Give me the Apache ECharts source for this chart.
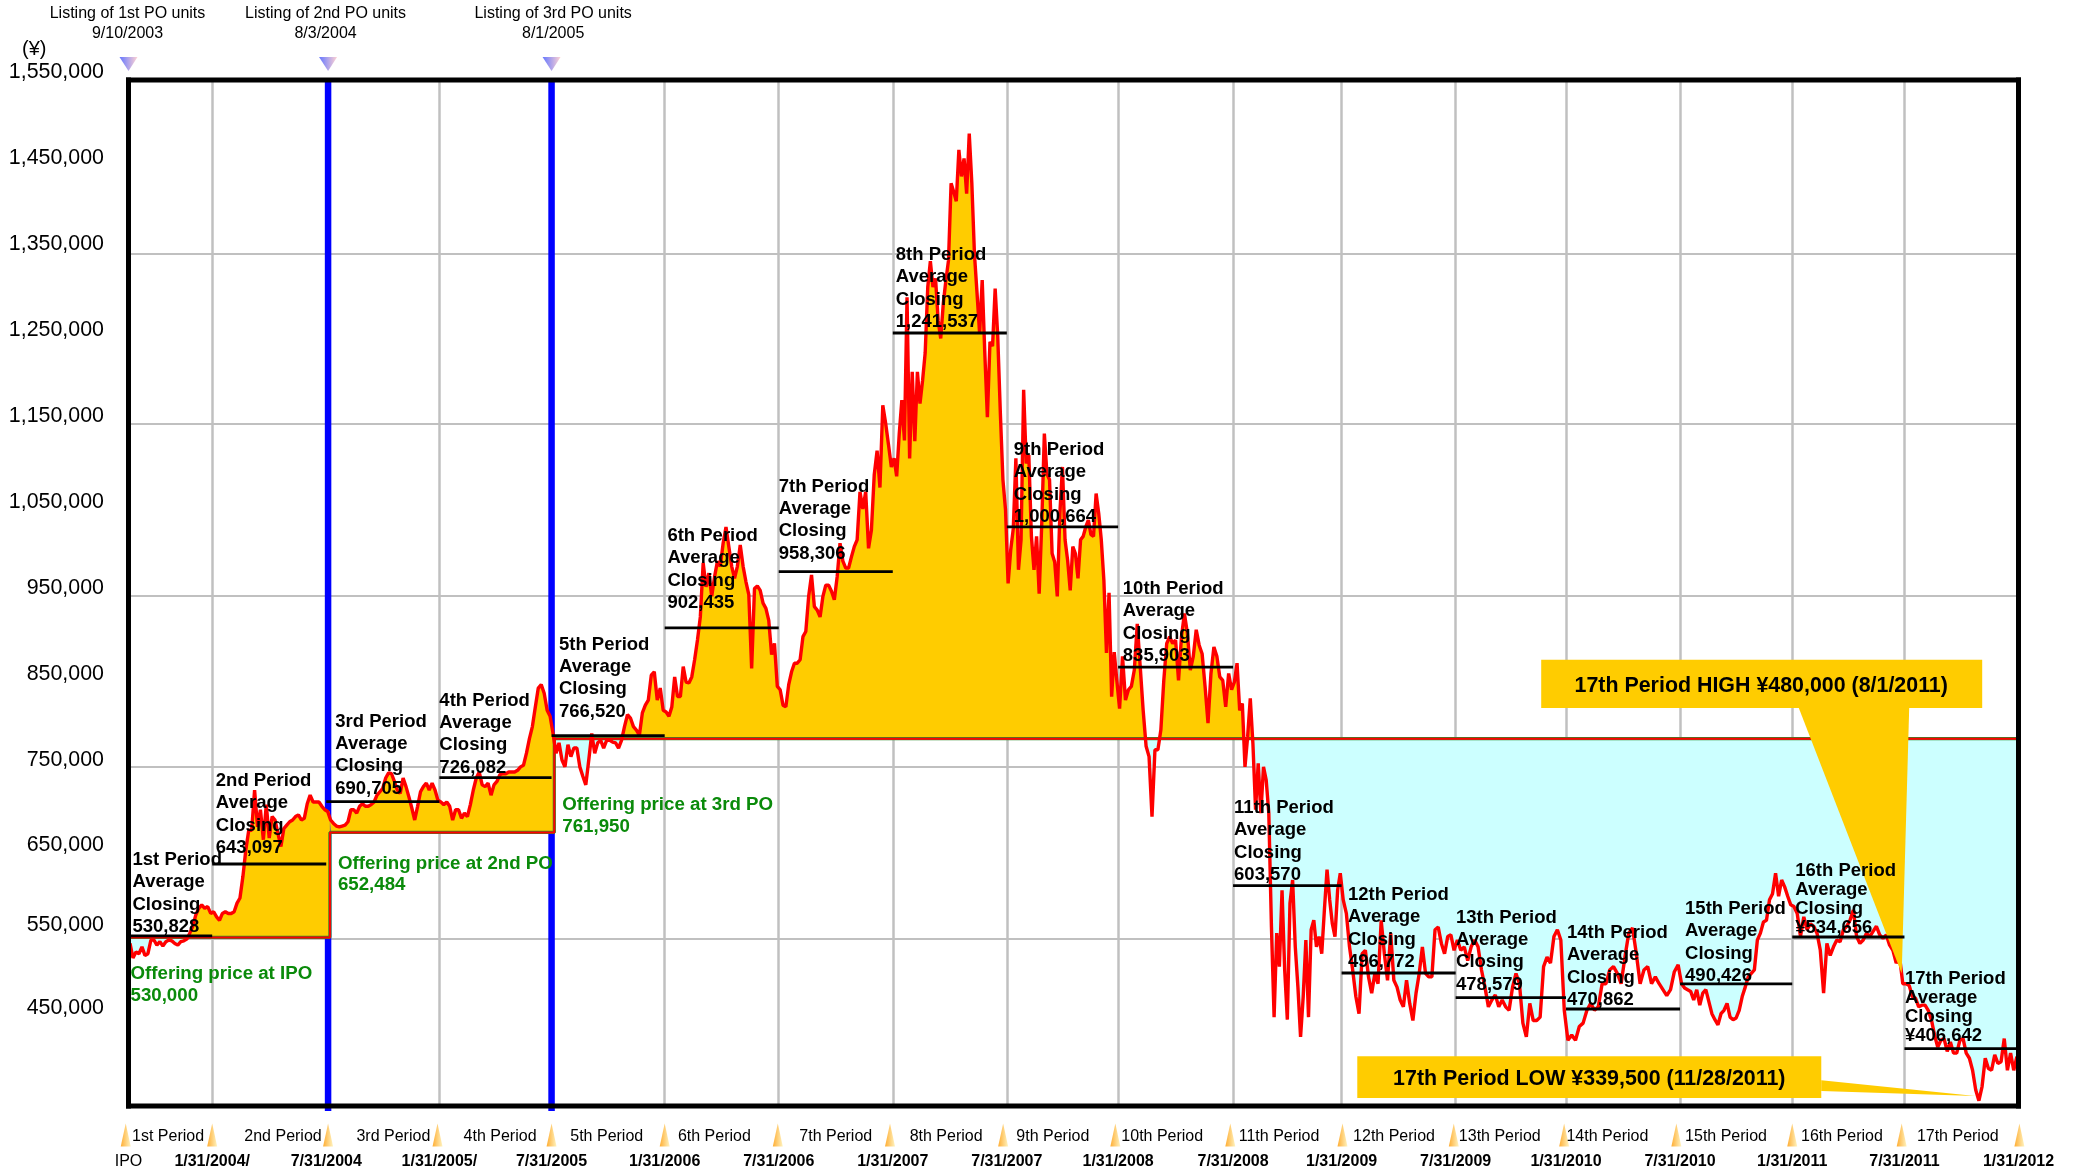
<!DOCTYPE html>
<html>
<head>
<meta charset="utf-8">
<style>html,body{margin:0;padding:0;background:#fff}#c{width:2078px;height:1171px}</style>
<script src="https://cdn.jsdelivr.net/npm/echarts@6/dist/echarts.min.js"></script>
</head>
<body>
<div id="c"></div>
<script>
// ---------- data (closing price in thousand yen) ----------
const p1=[523,506,513,511,519,509,511,527,527,521,525,520,525,527,526,523,521,525,526,528,535,543,556,564,568,564,566,558];
const p2=[560,554,550,558,560,558,558,560,570,576,601,632,655,655,702,659,679,644,685,646,671,667,651,636,657,661,665,667,671,673,667,669,686,696,688,688,688,683,679];
const p3=[677,667,663,660,659,660,661,665,679,679,675,683,686,683,683,685,688,696,700,704,716,722,721,712,702,698,716,706,694,681,667,683,700,706,710,702,710,702,690];
const p4=[688,685,688,683,667,679,679,669,675,671,685,702,716,723,708,706,710,696,708,712,720,721,721,723,723,723,725,729,731,745,762,776,799,821,825,815,795,788];
const p5=[768,745,757,737,729,755,741,751,751,729,718,708,737,768,745,757,760,751,760,760,758,757,751,760,776,790,786,776,772,766,792,801,807,836,840,807,821,795];
const p6=[793,788,799,834,811,811,846,828,827,834,854,877,904,967,939,955,928,951,969,963,990,1009,986,963,949,963,988,963,945,930,844,937,940,935,920,914,900,860,873,823];
const p7=[819,801,799,825,840,850,850,854,881,887,928,953,916,912,904,928,941,941,934,924,951,990,969,961,961,974,986,994,1050,1030,1050,984,1005,1070,1098,1055,1151,1130,1105,1079];
const p8=[1089,1068,1118,1157,1110,1277,1089,1190,1109,1190,1153,1180,1212,1289,1319,1289,1299,1250,1229,1270,1297,1320,1410,1400,1389,1449,1418,1439,1398,1468,1410,1328,1282,1235,1297,1212,1137,1225,1220,1287,1231,1142,1064,1029];
const p9=[943,982,1007,1089,959,994,1169,1083,1093,998,959,998,931,1013,1118,1071,1064,978,968,928,1025,1079,994,970,935,986,978,949,994,998,1009,1017,1000,998,1048,1025,994,947,862,932,811,863,830];
const p10=[797,858,807,819,823,842,896,846,795,753,741,671,749,749,772,830,873,881,873,877,830,881,908,885,842,858,889,871,861,823,780,838,869,858,834,830,799,838,819];
const p11=[828,850,795,803,729,764,809,756,679,733,675,729,714,675,542,437,535,496,585,492,434,570,597,519,472,414,461,527,437,539,550,519,531,511,562,609,574,546,531,585,605];
const p12=[574,558,519,492,461,441,511,515,484,465,488,476,550,511,480,535,480,472,457,449,480,453,433,465,488,519,488,484,484,539,542,523,511,531,533,515];
const p13=[527,515,519,503,519,527,519,492,472,449,457,463,449,457,449,445,472,488,476,430,414,453,433,433,437,496,507,500,531,539,527,445];
const p14=[410,416,410,426,430,445,453,445,449,476,476,492,496,488,476,507,535,541,511,476,492,496,476,484,476,469,462,469,490,498];
const p15=[476,471,469,467,457,469,451,465,469,455,441,434,428,441,445,453,437,434,436,445,461,472,484,488,492,527,535,548,550,574,581,605,578,597,589,578,568];
const p16=[566,558,531,554,539,546,543,535,515,465,523,509,519,527,525,539,543,550,562,531,523,527,535,531,537,543,533,529,533,521,515,500,508,476];
const p17=[476,474,461,459,449,451,451,445,434,416,402,410,412,397,408,395,395,410,412,395,389,375,352,339.5,356,389,377,375,393,383,385,412,375,395,375,391];
const periodPrices=[p1,p2,p3,p4,p5,p6,p7,p8,p9,p10,p11,p12,p13,p14,p15,p16,p17];
const periodSessions=[91,124,123,122,123,124,124,124,121,125,118,124,120,124,122,122,124];
const periodNames=['1st','2nd','3rd','4th','5th','6th','7th','8th','9th','10th','11th','12th','13th','14th','15th','16th','17th'];
const averageTexts=['530,828','643,097','690,705','726,082','766,520','902,435','958,306','1,241,537','1,000,664','835,903','603,570','496,772','478,579','470,862','490,426','¥534,656','¥406,642'];
const averageLevels=[531.7,615.7,688.4,716.4,765.4,891.1,956.8,1235.3,1009,845.5,590.4,488.5,459.7,446.5,475.7,530.5,400.2];
const dateLabels=['IPO','1/31/2004/','7/31/2004','1/31/2005/','7/31/2005','1/31/2006','7/31/2006','1/31/2007','7/31/2007','1/31/2008','7/31/2008','1/31/2009','7/31/2009','1/31/2010','7/31/2010','1/31/2011','7/31/2011','1/31/2012'];
const offeringPrices=[530000,652484,761950];
const offeringTexts=['Offering price at IPO\n530,000','Offering price at 2nd PO\n652,484','Offering price at 3rd PO\n761,950'];
const sectionStarts=[0,219,463];
const listingSessions=[0,217,460];
const listingTexts=['Listing of 1st PO units\n9/10/2003','Listing of 2nd PO units\n8/3/2004','Listing of 3rd PO units\n8/1/2005'];
const yTickLabels=['1,550,000','1,450,000','1,350,000','1,250,000','1,150,000','1,050,000','950,000','850,000','750,000','650,000','550,000','450,000'];
const yTickPlacement=[1540000,1439700,1339300,1239000,1138600,1038300,937900,837600,737200,638000,544700,447800];
const gridValues=[528000,729000,929000,1129000,1328000];
const xMarkers=[-3,91,217,336,460,583,706,828,951,1073,1198,1320,1441,1561,1683,1809,1928,2056];
const periodNameAnchors=[43,168,288,404,520,637,769,889,1005,1124,1251,1376,1491,1608,1737,1863,1989];

// ---------- layout / style constants ----------
const FONT='"Liberation Sans", Arial, sans-serif';
const xMax=2055, yMin=333300, yMax=1530500, yMaxWide=1553900;
const GOLD='#FFCC00', CYAN='#CCFFFF', RED='#FF0000';
const gridBox={left:128.5,right:59.5,bottom:65};
const labelDx=[4,3.6,9,0,7.4,2.7,0,3,7,4.7,1,6.4,0.4,1,5,3,0.5];
const labelDy=[1,-6,-3,0,-14,-15,-8,-1,0,-1,-0.7,-1,-3,1,2,0,-3.7].map(d=>d+1);
const labelLH=[22.3,22.3,22.3,22.3,22.3,22.3,22.3,22.3,22.3,22.3,22.3,22.3,22.3,22.3,22.3,19.3,19.2];
const offerDx=[2,8,8], offerDy=[25.8,20.4,55.5];
const listingDx=[-1,-2.5,1.6];

// ---------- derived ----------
const boundaries=[0];
periodSessions.forEach(n=>boundaries.push(boundaries[boundaries.length-1]+n));
const priceData=[];
periodPrices.forEach((vals,i)=>{
  vals.forEach((v,j)=>priceData.push([boundaries[i]+(j+0.5)/vals.length*periodSessions[i],v*1000]));
});
const lastX=priceData[priceData.length-1][0];
const sectionEnds=[sectionStarts[1],sectionStarts[2],lastX];

function sectionPoints(s){
  const start=sectionStarts[s],end=sectionEnds[s],level=offeringPrices[s];
  const inside=priceData.filter(p=>p[0]>=start&&p[0]<=end);
  const pts=[];
  if(s>0)pts.push([start,inside[0][1]]);
  inside.forEach(p=>pts.push(p));
  if(s<2)pts.push([end,inside[inside.length-1][1]]);
  const out=[];
  pts.forEach((p,k)=>{
    if(k>0){
      const q=pts[k-1];
      if((q[1]-level)*(p[1]-level)<0){
        out.push([q[0]+(level-q[1])/(p[1]-q[1])*(p[0]-q[0]),level]);
      }
    }
    out.push(p);
  });
  return out;
}
const series=[];
function rules(name,rows,stroke,width,z,cap){
  series.push({type:'custom',name,z,silent:true,data:rows,
    renderItem(params,api){
      const a=api.coord([api.value(0),api.value(1)]),b=api.coord([api.value(2),api.value(3)]);
      return {type:'line',shape:{x1:a[0],y1:a[1],x2:b[0],y2:b[1]},style:{stroke,lineWidth:width,lineCap:cap||'butt'}};
    }});
}
function texts(name,items,z,xi,yi){
  series.push({type:'custom',name,z,silent:true,xAxisIndex:xi||0,yAxisIndex:yi||0,
    data:items.map(t=>[t.x,t.y]),
    renderItem(params,api){
      const t=items[params.dataIndex],p=api.coord([api.value(0),api.value(1)]);
      return {type:'text',x:p[0]+(t.dx||0),y:p[1]+(t.dy||0),
        style:{text:t.text,font:t.font,fill:t.fill||'#000',align:t.align||'left',verticalAlign:t.vAlign||'bottom',lineHeight:t.lh}};
    }});
}

// blue listing lines (under the fills)
const blueRows=[];
listingSessions.slice(1).forEach(x=>{blueRows.push([x,yMax,x,327500]);});
rules('Listing',blueRows,'#0000FF',6.5,1);

// fills against each offering price
offeringPrices.forEach((level,s)=>{
  const pts=sectionPoints(s);
  series.push({type:'line',name:'Above '+s,z:2,silent:true,symbol:'none',lineStyle:{width:0},
    areaStyle:{color:GOLD,opacity:1,origin:level},data:pts.map(p=>[p[0],Math.max(p[1],level)])});
  series.push({type:'line',name:'Below '+s,z:2,silent:true,symbol:'none',lineStyle:{width:0},
    areaStyle:{color:CYAN,opacity:1,origin:level},data:pts.map(p=>[p[0],Math.min(p[1],level)])});
});

// offering price step line
const levelData=[];
offeringPrices.forEach((level,s)=>{levelData.push([s===0?priceData[0][0]:sectionStarts[s],level]);levelData.push([sectionEnds[s],level]);});
series.push({type:'line',name:'Offering edge',z:3,silent:true,symbol:'none',lineStyle:{color:'#2E8B2E',width:3.2},data:levelData});
series.push({type:'line',name:'Offering',z:3,silent:true,symbol:'none',lineStyle:{color:RED,width:2},data:levelData});

// closing price
series.push({type:'line',name:'Closing',z:4,silent:true,symbol:'none',lineStyle:{color:RED,width:3.4},data:priceData});

// plot frame
rules('Frame',[[0,yMin,xMax,yMin],[0,yMax,xMax,yMax],[0,yMin,0,yMax],[xMax,yMin,xMax,yMax]],'#000',5,5,'square');

// callouts
const callouts=[
  {x:1928,y:488000,text:'17th Period HIGH ¥480,000 (8/1/2011)',box:[-360.5,-313.7,441,48.4],tri:[[-102.9,-265.3],[7.5,-265.3],[0,0]],tx:-140.5,ty:-287},
  {x:2008,y:345000,text:'17th Period LOW ¥339,500 (11/28/2011)',box:[-618,-39.7,464,41.7],tri:[[-154,-15.7],[-154,-5],[0,0]],tx:-386,ty:-16.7}
];
series.push({type:'custom',name:'Callouts',z:6,silent:true,data:callouts.map(c=>[c.x,c.y]),
  renderItem(params,api){
    const c=callouts[params.dataIndex],p=api.coord([api.value(0),api.value(1)]);
    return {type:'group',x:p[0],y:p[1],children:[
      {type:'polygon',shape:{points:c.tri},style:{fill:GOLD}},
      {type:'rect',shape:{x:c.box[0],y:c.box[1],width:c.box[2],height:c.box[3]},style:{fill:GOLD}},
      {type:'text',x:c.tx,y:c.ty,style:{text:c.text,font:'bold 21.4px '+FONT,fill:'#000',align:'center',verticalAlign:'middle'}}
    ]};
  }});

// period averages
rules('Period average',averageLevels.map((v,i)=>[boundaries[i],v*1000,boundaries[i+1],v*1000]),'#000',2.8,7);
texts('Period labels',averageLevels.map((v,i)=>({
  x:boundaries[i],y:v*1000,dx:labelDx[i],dy:labelDy[i],lh:labelLH[i],
  text:periodNames[i]+' Period\nAverage\nClosing\n'+averageTexts[i],font:'bold 18.5px '+FONT
})),8);
texts('Offering labels',offeringPrices.map((v,i)=>({
  x:sectionStarts[i],y:v,dx:offerDx[i],dy:offerDy[i],lh:21.5,vAlign:'top',
  text:offeringTexts[i],font:'bold 18.7px '+FONT,fill:'#0A8A0A'
})),8);

// listing markers and captions (top strip, axis index 1)
series.push({type:'scatter',name:'Listing marks',xAxisIndex:1,yAxisIndex:1,clip:false,silent:true,
  symbol:'triangle',symbolRotate:180,symbolSize:[18,14],z:3,
  itemStyle:{color:new echarts.graphic.LinearGradient(0,0,1,0,[{offset:0,color:'#FFC8C8'},{offset:1,color:'#3F55FF'}])},
  data:listingSessions.map(x=>[x,1549200])});
texts('Listing captions',listingSessions.map((x,i)=>({
  x,y:1549200,dx:listingDx[i],dy:-40.5,lh:19.5,align:'center',vAlign:'middle',
  text:listingTexts[i],font:'16px '+FONT
})),8,1,1);

// bottom strip (axis index 2)
series.push({type:'scatter',name:'Period marks',xAxisIndex:2,yAxisIndex:2,clip:false,silent:true,
  symbol:'triangle',symbolSize:[10,23],z:3,
  itemStyle:{color:new echarts.graphic.LinearGradient(0,0,1,0,[{offset:0,color:'#FF9900'},{offset:1,color:'#FFF0B0'}])},
  data:xMarkers.map(x=>[x,0.59])});
texts('Period names',periodNames.map((n,i)=>({
  x:periodNameAnchors[i],y:0.574,dy:1,align:'center',vAlign:'middle',text:n+' Period',font:'16px '+FONT
})),8,2,2);

const hiddenAxis={show:false,axisLine:{show:false},axisTick:{show:false},axisLabel:{show:false},splitLine:{show:false}};
const option={
  animation:false,
  backgroundColor:'#fff',
  grid:[
    {left:gridBox.left,right:gridBox.right,bottom:gridBox.bottom,top:80,show:true,backgroundColor:'#fff',borderWidth:0,containLabel:false},
    {left:gridBox.left,right:gridBox.right,bottom:gridBox.bottom,top:60},
    {left:gridBox.left,right:gridBox.right,bottom:0,top:1110}
  ],
  xAxis:[
    {type:'value',gridIndex:0,min:0,max:xMax,
     axisLine:{show:false},
     axisTick:{show:false,customValues:boundaries.slice(1,-1)},
     splitLine:{show:true,lineStyle:{color:'#C0C0C0',width:2.5}},
     axisLabel:{show:true,customValues:boundaries,margin:55.7,verticalAlign:'middle',hideOverlap:false,
       fontFamily:FONT,fontSize:16,fontWeight:'bold',color:'#000',
       formatter:(v)=>{const t=dateLabels[boundaries.indexOf(v)];return t==='IPO'?'{p|IPO}':t;},
       rich:{p:{fontFamily:FONT,fontSize:16,fontWeight:'normal',color:'#000'}}}},
    Object.assign({type:'value',gridIndex:1,min:0,max:xMax},hiddenAxis),
    Object.assign({type:'value',gridIndex:2,min:0,max:xMax},hiddenAxis)
  ],
  yAxis:[
    {type:'value',gridIndex:0,min:yMin,max:yMax,
     axisLine:{show:false},axisLabel:{show:false},
     axisTick:{show:false,customValues:gridValues},
     splitLine:{show:true,lineStyle:{color:'#C0C0C0',width:2}}},
    {type:'value',gridIndex:1,min:yMin,max:yMaxWide,
     axisLine:{show:false},axisTick:{show:false},splitLine:{show:false},
     axisLabel:{show:true,customValues:yTickPlacement,margin:24.5,fontFamily:FONT,fontSize:21.4,color:'#000',
       formatter:(v)=>yTickLabels[yTickPlacement.indexOf(v)]}},
    Object.assign({type:'value',gridIndex:2,min:0,max:1},hiddenAxis)
  ],
  graphic:[{type:'text',left:22,top:39,style:{text:'(¥)',font:'20px '+FONT,fill:'#000'}}],
  series
};
echarts.init(document.getElementById('c'),null,{renderer:'canvas'}).setOption(option);
</script>
</body>
</html>
